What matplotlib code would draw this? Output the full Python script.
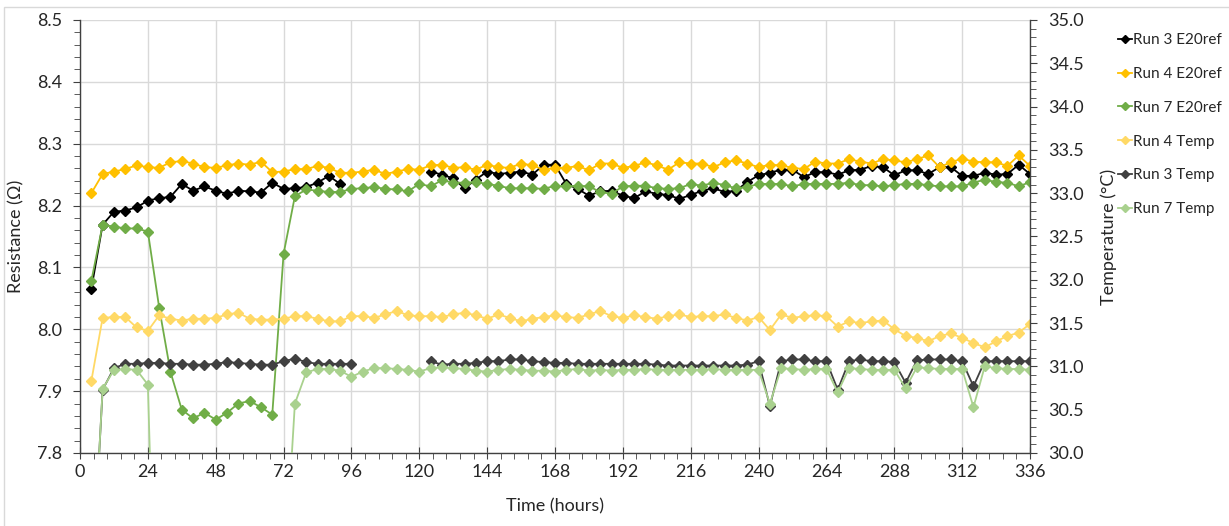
import matplotlib.pyplot as plt
import numpy as np
from matplotlib.ticker import MultipleLocator, FormatStrFormatter
from matplotlib.patches import Rectangle

plt.rcParams['font.family'] = ['Lato', 'DejaVu Sans']

nan = float('nan')

# sample times (hours), one reading every 4 h
hours = list(range(4, 337, 4))

# resistance (ohm), left axis
run3_e20ref = [8.065, 8.169, 8.190, 8.192, 8.197, 8.208, 8.212, 8.214, 8.235, 8.224, 8.231, 8.224,
               8.219, 8.224, 8.223, 8.221, 8.237, 8.227, 8.228, 8.230, 8.237, 8.248, 8.235,
               nan, nan, nan, nan, nan, nan, nan,
               8.255, 8.250, 8.244, 8.228, 8.242, 8.255, 8.251, 8.253, 8.255, 8.250, 8.266, 8.266,
               8.235, 8.227, 8.216, 8.223, 8.224, 8.216, 8.212, 8.223, 8.219, 8.217, 8.211, 8.217,
               8.224, 8.228, 8.222, 8.224, 8.238, 8.249, 8.253, 8.258, 8.258, 8.246, 8.254, 8.254,
               8.250, 8.257, 8.258, 8.264, 8.262, 8.249, 8.257, 8.257, 8.251, 8.262, 8.262, 8.248,
               8.248, 8.253, 8.250, 8.251, 8.266, 8.251]
run4_e20ref = [8.220, 8.251, 8.255, 8.259, 8.265, 8.262, 8.261, 8.270, 8.272, 8.268, 8.262, 8.261,
               8.265, 8.268, 8.266, 8.271, 8.254, 8.255, 8.259, 8.259, 8.264, 8.261, 8.253, 8.253,
               8.255, 8.258, 8.251, 8.255, 8.259, 8.258, 8.265, 8.266, 8.261, 8.262, 8.258, 8.266,
               8.262, 8.261, 8.268, 8.265, 8.258, 8.261, 8.261, 8.264, 8.257, 8.268, 8.268, 8.261,
               8.264, 8.270, 8.265, 8.258, 8.270, 8.268, 8.268, 8.262, 8.270, 8.273, 8.268, 8.262,
               8.266, 8.265, 8.261, 8.259, 8.271, 8.268, 8.268, 8.275, 8.271, 8.268, 8.275, 8.273,
               8.270, 8.275, 8.281, 8.262, 8.270, 8.276, 8.271, 8.270, 8.270, 8.264, 8.281, 8.264]
run7_e20ref = [8.078, 8.169, 8.166, 8.163, 8.163, 8.158, 8.035, 7.931, 7.870, 7.856, 7.865, 7.854,
               7.865, 7.880, 7.884, 7.874, 7.862, 8.122, 8.215, 8.226, 8.224, 8.222, 8.222, 8.227,
               8.228, 8.230, 8.227, 8.226, 8.223, 8.235, 8.231, 8.241, 8.237, 8.237, 8.238, 8.235,
               8.232, 8.228, 8.228, 8.228, 8.227, 8.232, 8.231, 8.232, 8.231, 8.222, 8.219, 8.231,
               8.232, 8.232, 8.228, 8.227, 8.228, 8.235, 8.232, 8.237, 8.233, 8.228, 8.230, 8.235,
               8.235, 8.235, 8.231, 8.235, 8.235, 8.235, 8.235, 8.237, 8.233, 8.233, 8.231, 8.233,
               8.235, 8.235, 8.233, 8.231, 8.231, 8.231, 8.237, 8.242, 8.238, 8.237, 8.231, 8.238]

# temperature (deg C), right axis
run4_temp = [30.83, 31.56, 31.57, 31.57, 31.45, 31.41, 31.59, 31.55, 31.53, 31.55, 31.55, 31.56,
             31.60, 31.62, 31.55, 31.54, 31.54, 31.55, 31.58, 31.58, 31.55, 31.52, 31.52, 31.58,
             31.58, 31.56, 31.60, 31.64, 31.59, 31.58, 31.58, 31.57, 31.60, 31.62, 31.59, 31.55,
             31.60, 31.56, 31.52, 31.55, 31.57, 31.59, 31.57, 31.56, 31.60, 31.64, 31.58, 31.56,
             31.59, 31.57, 31.55, 31.58, 31.60, 31.57, 31.58, 31.58, 31.60, 31.56, 31.53, 31.57,
             31.42, 31.60, 31.56, 31.58, 31.59, 31.58, 31.46, 31.52, 31.50, 31.52, 31.53, 31.43,
             31.35, 31.33, 31.29, 31.35, 31.38, 31.33, 31.27, 31.22, 31.29, 31.35, 31.39, 31.49]
run3_temp = [28.30, 30.73, 30.98, 31.03, 31.03, 31.04, 31.04, 31.03, 31.03, 31.02, 31.02, 31.03,
             31.05, 31.04, 31.03, 31.02, 31.02, 31.06, 31.09, 31.05, 31.03, 31.03, 31.03, 31.03,
             nan, nan, nan, nan, nan, nan,
             31.06, 31.02, 31.03, 31.03, 31.04, 31.06, 31.06, 31.08, 31.08, 31.06, 31.05, 31.04,
             31.04, 31.03, 31.03, 31.03, 31.03, 31.03, 31.03, 31.03, 31.02, 31.01, 31.01, 31.01,
             31.01, 31.01, 31.01, 31.01, 31.02, 31.06, 30.54, 31.06, 31.08, 31.08, 31.06, 31.06,
             30.73, 31.06, 31.08, 31.06, 31.06, 31.05, 30.81, 31.07, 31.08, 31.08, 31.08, 31.06,
             30.77, 31.06, 31.06, 31.06, 31.06, 31.06]
run7_temp = [28.30, 30.74, 30.96, 30.97, 30.96, 30.79, 26.30, 24.50, 24.40, 24.50, 24.60, 24.50,
             24.40, 24.50, 24.60, 24.50, 24.60, 28.40, 30.57, 30.93, 30.97, 30.97, 30.95, 30.88,
             30.94, 30.98, 30.98, 30.97, 30.96, 30.94, 30.98, 30.99, 30.98, 30.97, 30.95, 30.94,
             30.96, 30.97, 30.96, 30.95, 30.95, 30.94, 30.96, 30.97, 30.95, 30.96, 30.95, 30.96,
             30.96, 30.97, 30.96, 30.96, 30.96, 30.96, 30.96, 30.97, 30.96, 30.96, 30.96, 30.96,
             30.57, 30.98, 30.97, 30.96, 30.97, 30.97, 30.70, 30.98, 30.97, 30.96, 30.96, 30.96,
             30.75, 30.99, 30.98, 30.97, 30.97, 30.97, 30.53, 31.00, 30.98, 30.97, 30.97, 30.96]

text_col = '#262626'
axis_col = '#404040'

fig = plt.figure(figsize=(12.29, 5.26), dpi=100)
fig.patches.append(Rectangle((4 / 1229, -0.1), 1.2, 1 - 7 / 526 + 0.1, transform=fig.transFigure,
                             fill=False, edgecolor='#d9d9d9', linewidth=1))
ax = fig.add_axes([80 / 1229, 1 - 453 / 526, 950 / 1229, 433 / 526])
ax2 = ax.twinx()

mk = dict(marker='D', markersize=5, linewidth=1.3)
ax.plot(hours, run3_e20ref, color='#000000', label='Run 3 E20ref', **mk)
ax.plot(hours, run4_e20ref, color='#FFC000', label='Run 4 E20ref', **mk)
ax.plot(hours, run7_e20ref, color='#70AD47', label='Run 7 E20ref', **mk)
ax2.plot(hours, run4_temp, color='#FFD966', label='Run 4 Temp', **mk)
ax2.plot(hours, run3_temp, color='#404040', label='Run 3 Temp', **mk)
ax2.plot(hours, run7_temp, color='#A9D18E', label='Run 7 Temp', **mk)

ax.set_xlim(0, 336)
ax.set_ylim(7.8, 8.5)
ax2.set_ylim(30, 35)
ax.xaxis.set_major_locator(MultipleLocator(24))
ax.xaxis.set_minor_locator(MultipleLocator(4.8))
ax.yaxis.set_major_locator(MultipleLocator(0.1))
ax.yaxis.set_minor_locator(MultipleLocator(0.02))
ax2.yaxis.set_major_locator(MultipleLocator(0.5))
ax2.yaxis.set_minor_locator(MultipleLocator(0.1))
ax.yaxis.set_major_formatter(FormatStrFormatter('%.1f'))
ax2.yaxis.set_major_formatter(FormatStrFormatter('%.1f'))

ax.grid(True, which='major', color='#d9d9d9', linewidth=1)
ax.set_axisbelow(True)

for a in (ax, ax2):
    a.spines['top'].set_visible(False)
    for s in ('left', 'right', 'bottom'):
        a.spines[s].set_color(axis_col)
        a.spines[s].set_linewidth(1)
ax.spines['right'].set_visible(False)
ax2.spines['left'].set_visible(False)
ax2.spines['bottom'].set_visible(False)

ax.tick_params(axis='x', which='major', direction='inout', length=8, color=axis_col,
               labelsize=13, labelcolor=text_col, pad=4)
ax.tick_params(axis='x', which='minor', direction='out', length=4, color=axis_col)
ax.tick_params(axis='y', which='major', direction='out', length=5, color=axis_col,
               labelsize=13, labelcolor=text_col, pad=8)
ax.tick_params(axis='y', which='minor', direction='out', length=4, color=axis_col)
ax2.tick_params(axis='y', which='major', direction='out', length=5, color=axis_col,
                labelsize=13, labelcolor=text_col, pad=8)
ax2.tick_params(axis='y', which='minor', direction='out', length=4, color=axis_col)

ax.set_xlabel('Time (hours)', fontsize=13, color=text_col)
ax.xaxis.set_label_coords(0.5, -0.105)
ax.set_ylabel('Resistance (Ω)', fontsize=13, color=text_col)
ax.yaxis.set_label_coords(-0.058, 0.5)
ax2.set_ylabel('Temperature (°C)', fontsize=13, color=text_col)
ax2.yaxis.set_label_coords(1.074, 0.5)

h1, l1 = ax.get_legend_handles_labels()
h2, l2 = ax2.get_legend_handles_labels()
fig.legend(h1 + h2, l1 + l2, loc='upper left', bbox_to_anchor=(1118 / 1229, 1 - 33 / 526),
           frameon=False, fontsize=11, handlelength=0.9, handletextpad=0.1, borderpad=0,
           borderaxespad=0, labelspacing=1.3, labelcolor=text_col, markerscale=0.9)

fig.savefig('out.png', dpi=100)
